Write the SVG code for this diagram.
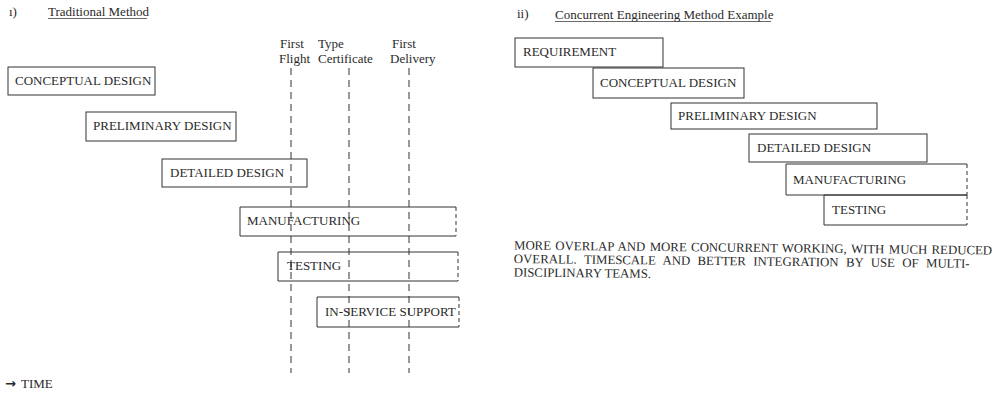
<svg xmlns="http://www.w3.org/2000/svg" width="1006" height="404" viewBox="0 0 1006 404">
<style>
text{font-family:"Liberation Serif","Times New Roman",serif;font-size:13px;fill:#2a2a2a}
.box{fill:none;stroke:#333;stroke-width:1}
.dash{fill:none;stroke:#333;stroke-width:1;stroke-dasharray:4 3}
.mile{fill:none;stroke:#333;stroke-width:1;stroke-dasharray:7 5}
.ul{stroke:#444;stroke-width:0.8}
.note{font-size:12.8px}
</style>
<rect x="0" y="0" width="1006" height="404" fill="#ffffff"/>

<!-- Left: Traditional Method -->
<g id="title-left">
<text x="9" y="16">ı)</text>
<text x="48" y="16">Traditional Method</text>
<line class="ul" x1="48" y1="18.5" x2="147" y2="18.5"/>
</g>

<g id="milestones">
<text x="280" y="48">First</text>
<text x="279" y="63">Flight</text>
<text x="318" y="48">Type</text>
<text x="318" y="63">Certificate</text>
<text x="392" y="48">First</text>
<text x="390" y="63">Delivery</text>
</g>

<g id="connectors">
<line class="mile" x1="291" y1="68" x2="291" y2="373"/>
<line class="mile" x1="349" y1="68" x2="349" y2="373"/>
<line class="mile" x1="409" y1="68" x2="409" y2="373"/>
</g>

<g id="l-conceptual">
<rect class="box" x="8" y="67" width="147" height="28"/>
<text x="15" y="85">CONCEPTUAL DESIGN</text>
</g>
<g id="l-preliminary">
<rect class="box" x="86" y="112" width="150" height="29"/>
<text x="93" y="130">PRELIMINARY DESIGN</text>
</g>
<g id="l-detailed">
<rect class="box" x="162" y="159" width="145" height="28"/>
<text x="170" y="177">DETAILED DESIGN</text>
</g>
<g id="l-manufacturing">
<path class="box" d="M456,207 H240 V236 H456"/>
<line class="dash" x1="456" y1="207" x2="456" y2="236"/>
<text x="247" y="225">MANUFACTURING</text>
</g>
<g id="l-testing">
<path class="box" d="M458,252 H278 V281 H458"/>
<line class="dash" x1="458" y1="252" x2="458" y2="281"/>
<text x="287" y="270">TESTING</text>
</g>
<g id="l-inservice">
<path class="box" d="M459,297 H317 V327 H459"/>
<line class="dash" x1="459" y1="297" x2="459" y2="327"/>
<text x="325" y="316">IN-SERVICE SUPPORT</text>
</g>

<g id="time-axis">
<text x="5" y="388"><tspan font-family="DejaVu Sans, sans-serif" font-size="13" font-weight="bold">→</tspan><tspan x="21">TIME</tspan></text>
</g>

<!-- Right: Concurrent Engineering -->
<g id="title-right">
<text x="517" y="18">ii)</text>
<text x="555" y="19">Concurrent Engineering Method Example</text>
<line class="ul" x1="555" y1="21.5" x2="771" y2="21.5"/>
</g>

<g id="r-requirement">
<rect class="box" x="515" y="38" width="148" height="29"/>
<text x="523" y="56">REQUIREMENT</text>
</g>
<g id="r-conceptual">
<rect class="box" x="593" y="68" width="151" height="30"/>
<text x="600" y="87">CONCEPTUAL DESIGN</text>
</g>
<g id="r-preliminary">
<rect class="box" x="671" y="103" width="206" height="26"/>
<text x="678" y="120">PRELIMINARY DESIGN</text>
</g>
<g id="r-detailed">
<rect class="box" x="749" y="134" width="178" height="28"/>
<text x="757" y="152">DETAILED DESIGN</text>
</g>
<g id="r-manufacturing">
<path class="box" d="M967,164 H786 V195 H967"/>
<line class="dash" x1="967" y1="164" x2="967" y2="195"/>
<text x="793" y="184">MANUFACTURING</text>
</g>
<g id="r-testing">
<path class="box" d="M967,195 H824 V225 H967"/>
<line class="dash" x1="967" y1="195" x2="967" y2="225"/>
<text x="832" y="214">TESTING</text>
</g>

<g id="note" transform="rotate(0.6 514 250)">
<text class="note" x="514" y="249.5" word-spacing="1.2">MORE OVERLAP AND MORE CONCURRENT WORKING, WITH MUCH REDUCED</text>
<text class="note" x="514" y="263" word-spacing="4.2">OVERALL. TIMESCALE AND BETTER INTEGRATION BY USE OF MULTI-</text>
<text class="note" x="514" y="276.5">DISCIPLINARY TEAMS.</text>
</g>
</svg>
